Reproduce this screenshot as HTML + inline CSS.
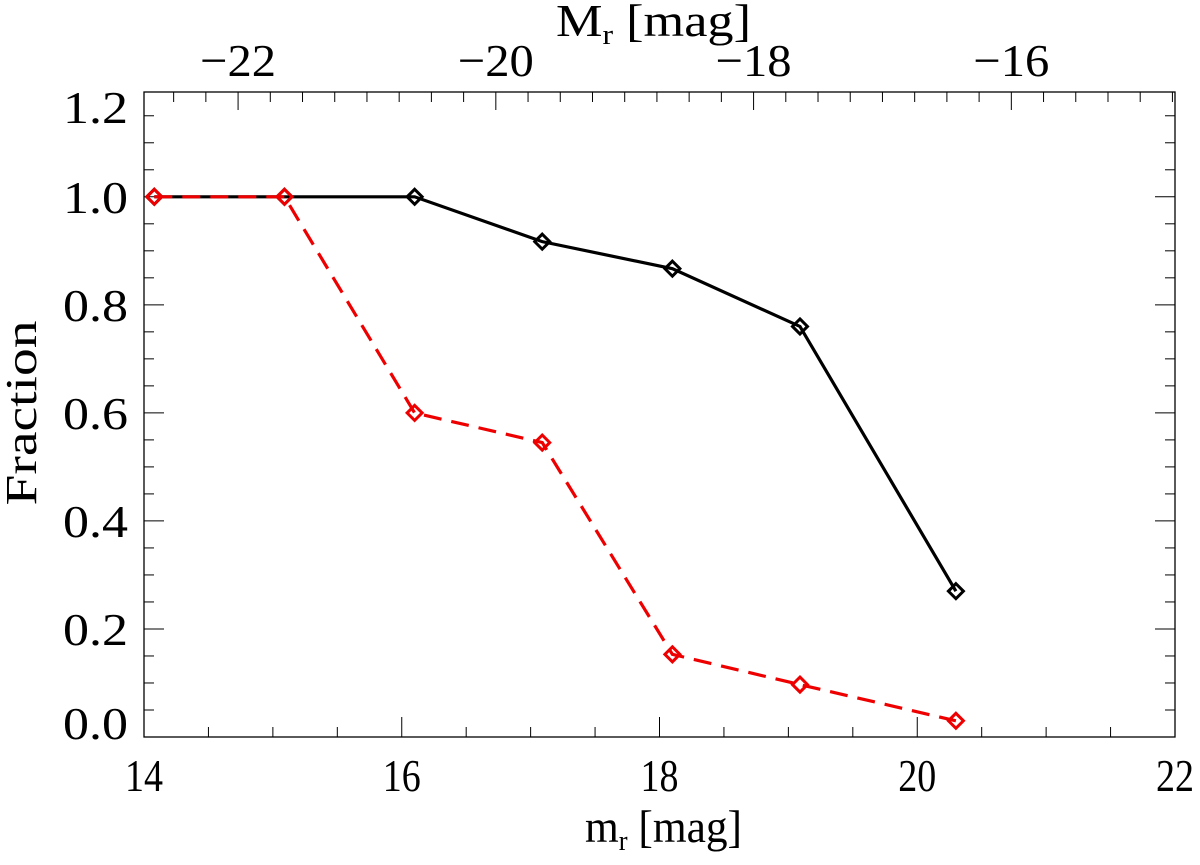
<!DOCTYPE html>
<html><head><meta charset="utf-8"><style>
html,body{margin:0;padding:0;background:#fff;}
svg text{font-family:"Liberation Serif",serif;fill:#000;}
</style></head><body>
<svg id="chart" width="1200" height="860" xmlns="http://www.w3.org/2000/svg">
<g id="axes"></g>
<g id="series"></g>
</svg>
<script>
const xValues = [14.08, 15.09, 16.1, 17.09, 18.1, 19.09, 20.3];
const blackFraction = [1.0, 1.0, 1.0, 0.917, 0.867, 0.76, 0.27];
const redFraction = [1.0, 1.0, 0.6, 0.545, 0.153, 0.097, 0.03];
const bottomTicks = [14, 16, 18, 20, 22];
const leftTicks = [0.0, 0.2, 0.4, 0.6, 0.8, 1.0, 1.2];
const topTicks = [-22, -20, -18, -16];
const distMod = 36.73;

const L=144,R=1175,T=92,B=737;
const xMin=14,xMax=22,yMin=0,yMax=1.194;
const sx=v=>L+(v-xMin)/(xMax-xMin)*(R-L);
const sy=v=>B-(v-yMin)/(yMax-yMin)*(B-T);
const NS='http://www.w3.org/2000/svg';
const axes=document.getElementById('axes');
const series=document.getElementById('series');
function mk(tag,attrs,parent){const e=document.createElementNS(NS,tag);for(const k in attrs)e.setAttribute(k,attrs[k]);parent.appendChild(e);return e;}

let fr=mk('rect',{x:L,y:T,width:R-L,height:B-T,fill:'none',stroke:'#000','stroke-width':1.3},axes);



for(let v=xMin;v<=xMax+1e-9;v+=0.5){
  const major=Math.abs(v-Math.round(v/2)*2)<1e-9;
  const len=major?20:10;
  let t=mk('line',{x1:sx(v),x2:sx(v),y1:B,y2:B-len,stroke:'#000','stroke-width':1},axes);
  
  
}
bottomTicks.forEach(v=>{
  let t=mk('text',{x:sx(v),y:B+54,'font-size':46,'text-anchor':'middle',textLength:38,lengthAdjust:'spacingAndGlyphs'},axes);
  t.textContent=v;
  
  
});
for(let M=-23;M<=-14;M+=0.25){
  const m=M+distMod; if(m<xMin||m>xMax) continue;
  const major=Math.abs(M-Math.round(M/2)*2)<1e-9;
  const len=major?18:10;
  let t=mk('line',{x1:sx(m),x2:sx(m),y1:T,y2:T+len,stroke:'#000','stroke-width':1},axes);
  
  
}
topTicks.forEach(M=>{
  let t=mk('text',{x:sx(M+distMod),y:76,'font-size':46,'text-anchor':'middle',textLength:76,lengthAdjust:'spacingAndGlyphs'},axes);
  t.textContent='\u2212'+Math.abs(M);
  
  
});
for(let v=0;v<=yMax+1e-9;v+=0.05){
  const major=Math.abs(v*5-Math.round(v*5))<1e-9;
  const len=major?20:10;
  let a=mk('line',{x1:L,x2:L+len,y1:sy(v),y2:sy(v),stroke:'#000','stroke-width':1},axes);
  
  
  let b=mk('line',{x1:R,x2:R-len,y1:sy(v),y2:sy(v),stroke:'#000','stroke-width':1},axes);
  
  
}
leftTicks.forEach(v=>{
  const cy=Math.min(Math.max(sy(v),107),723);
  let t=mk('text',{x:63,y:cy+16,'font-size':46,'text-anchor':'start',textLength:65,lengthAdjust:'spacingAndGlyphs'},axes);
  t.textContent=v.toFixed(1);
  
  
});
let xt=mk('text',{x:585,y:842,'font-size':46,textLength:157,lengthAdjust:'spacingAndGlyphs'},axes);
xt.innerHTML='m<tspan dy="8" font-size="28">r</tspan><tspan dy="-8"> [mag]</tspan>';


let tt=mk('text',{x:556,y:36,'font-size':46,textLength:195,lengthAdjust:'spacingAndGlyphs'},axes);
tt.innerHTML='M<tspan dy="8" font-size="28">r</tspan><tspan dy="-8"> [mag]</tspan>';


let yt=mk('text',{x:0,y:0,'font-size':44,'text-anchor':'middle',textLength:185,lengthAdjust:'spacingAndGlyphs',transform:'translate(36,413) rotate(-90)'},axes);
yt.textContent='Fraction';



function drawSeries(vals,color,dash,name){
  const pts=xValues.map((x,i)=>sx(x)+','+sy(vals[i])).join(' ');
  let pl=mk('polyline',{points:pts,fill:'none',stroke:color,'stroke-width':3.2,'stroke-dasharray':dash},series);
  
  
  xValues.forEach((x,i)=>{
    const cx=sx(x),cy=sy(vals[i]),r=7.5;
    let d=mk('polygon',{points:`${cx},${cy-r} ${cx+r},${cy} ${cx},${cy+r} ${cx-r},${cy}`,fill:'none',stroke:color,'stroke-width':3},series);
    
    
  });
}
drawSeries(blackFraction,'#000','none','black-series');
drawSeries(redFraction,'#ee0000','18 10','red-series');
</script>
</body></html>
